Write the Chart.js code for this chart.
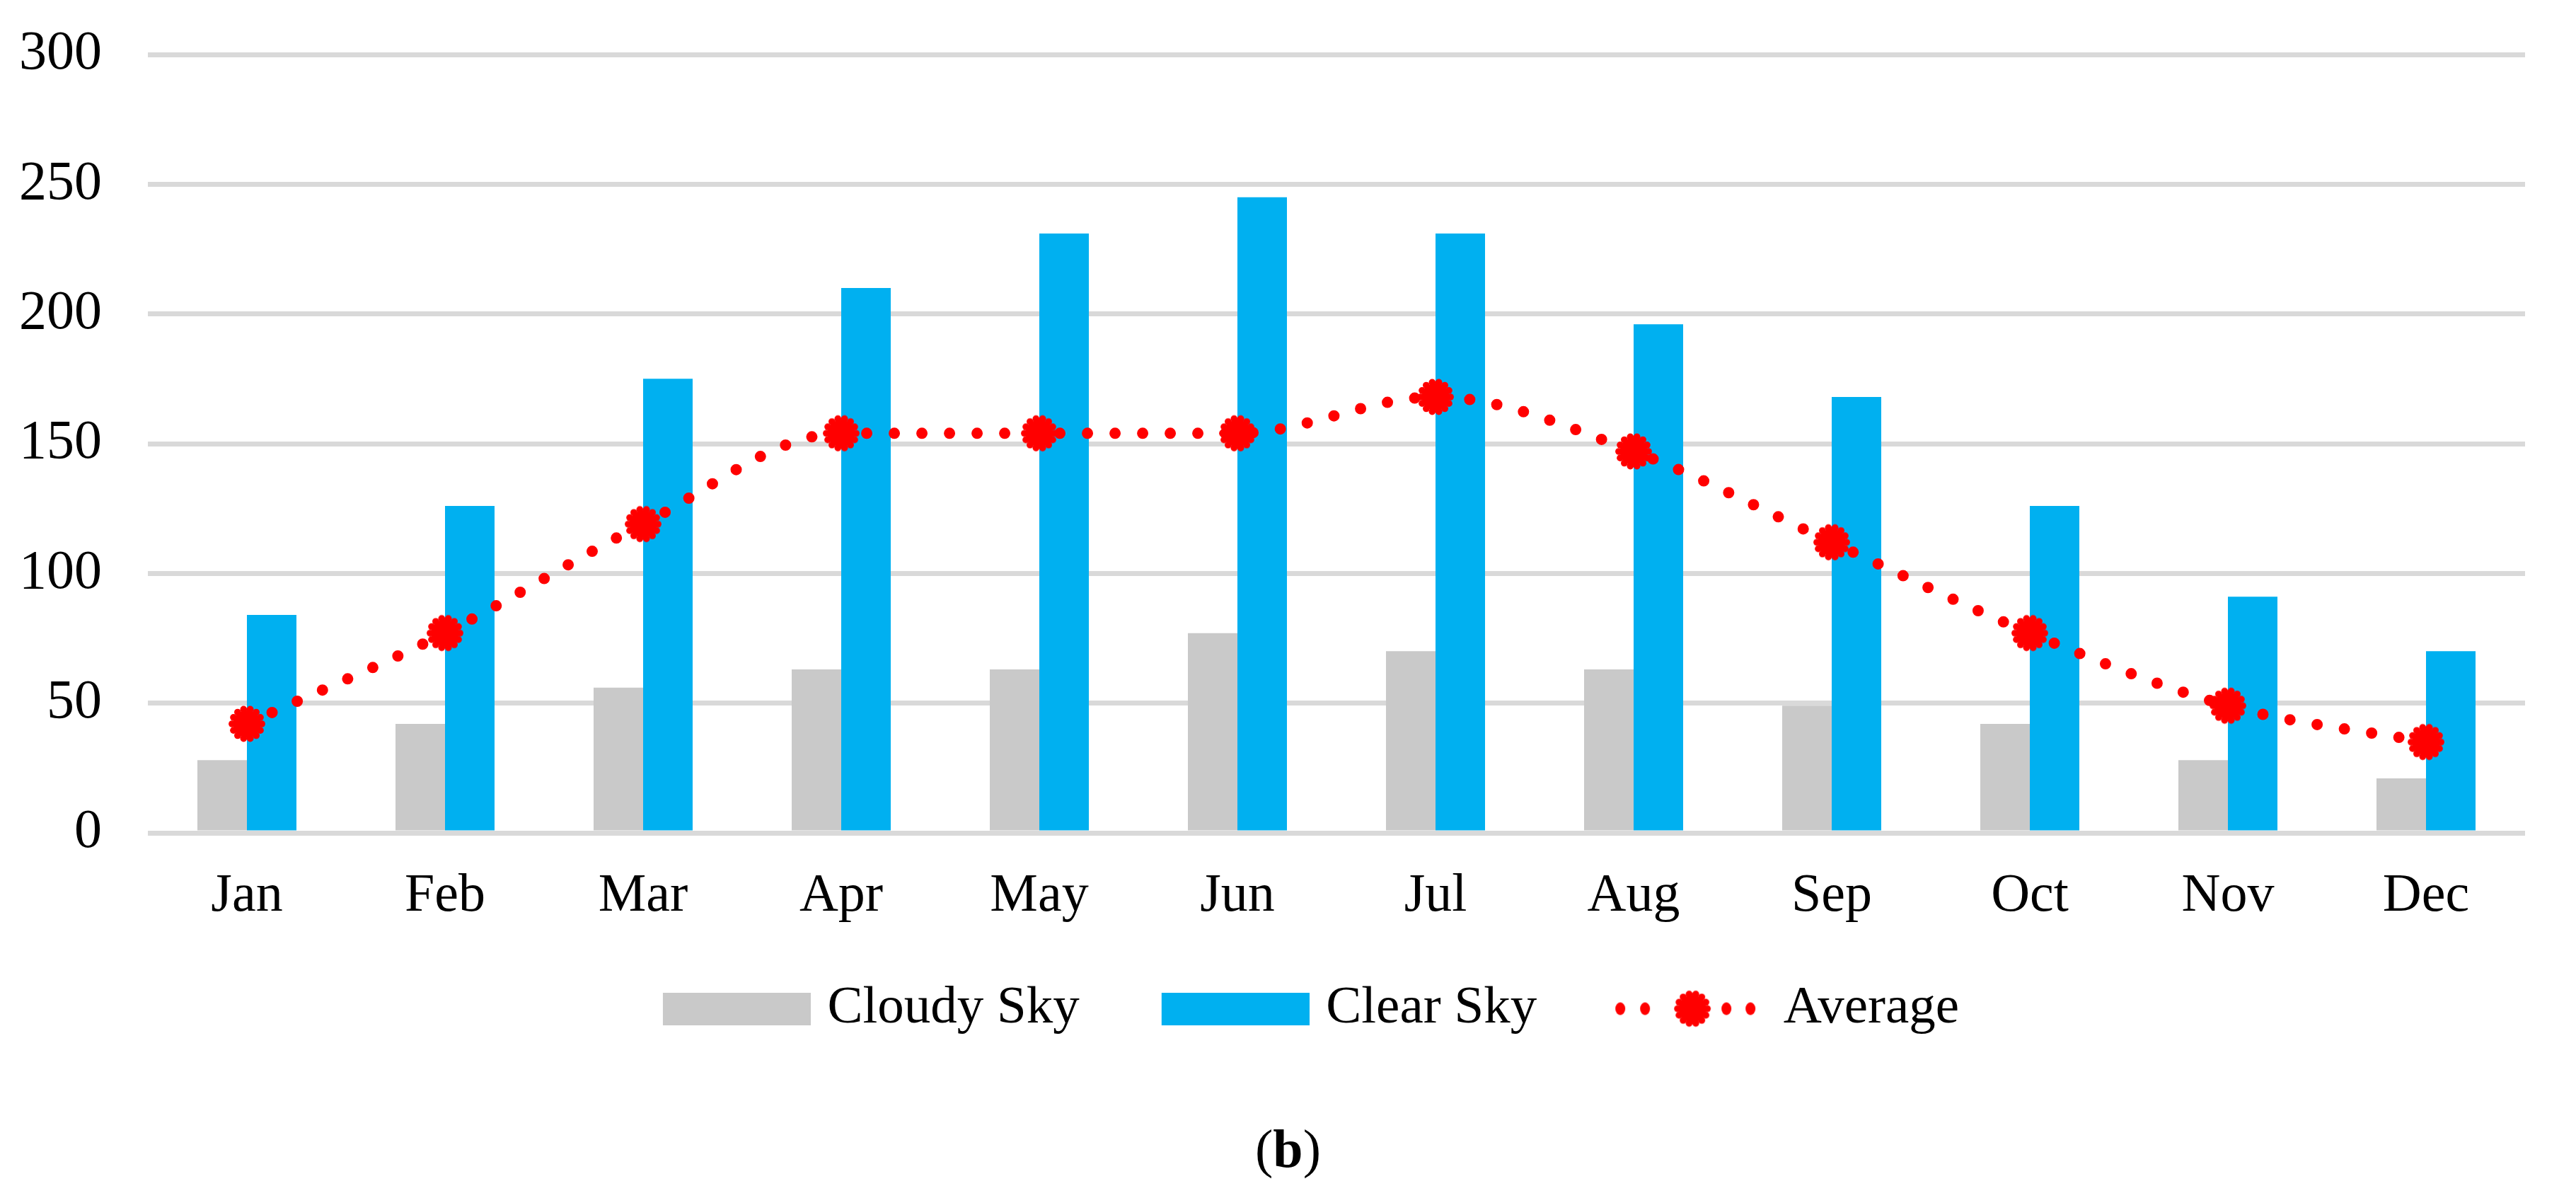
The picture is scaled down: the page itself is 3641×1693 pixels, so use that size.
<!DOCTYPE html>
<html lang="en">
<head>
  <meta charset="UTF-8">
  <title>Cloudy Sky / Clear Sky / Average</title>
  <style>
    html, body {
      margin: 0;
      padding: 0;
      background: #ffffff;
    }
    #wrap {
      position: relative;
      width: 3641px;
      height: 1693px;
    }
    #caption {
      position: absolute;
      left: 0;
      width: 3641px;
      top: 1578px;
      text-align: center;
      font-family: "Liberation Serif", "Times New Roman", serif;
      font-size: 76px;
      line-height: 90px;
      color: #000;
    }
  </style>
</head>
<body>

  <div id="wrap">
    <canvas id="myChart" width="3641" height="1693"></canvas>
    <div id="caption">(<b>b</b>)</div>
  </div>

  <script src="https://cdn.jsdelivr.net/npm/chart.js"></script>
  <script>
    // datos
    var months = ['Jan', 'Feb', 'Mar', 'Apr', 'May', 'Jun', 'Jul', 'Aug', 'Sep', 'Oct', 'Nov', 'Dec'];
    var cloudySky = [28, 42, 56, 63, 63, 77, 70, 63, 49, 42, 28, 21];
    var clearSky = [84, 126, 175, 210, 231, 245, 231, 196, 168, 126, 91, 70];
    var average = [42, 77, 119, 154, 154, 154, 168, 147, 112, 77, 49, 35];
    var yTicks = [0, 50, 100, 150, 200, 250, 300];

    var FONT = '"Liberation Serif", "Times New Roman", serif';
    var RED = '#ff0000';
    // iconos de leyenda: ancho reservado 260, lienzo 288, caja de 209 pegada a la derecha
    var ICON_W = 260;
    var CANVAS_W = 288;
    var BOX_X = CANVAS_W - 209;

    // marcador rojo con borde dentado
    function makeMarker(size) {
      var c = document.createElement('canvas');
      c.width = size; c.height = size;
      var g = c.getContext('2d');
      var m = size / 2;
      g.fillStyle = RED;
      g.beginPath();
      g.arc(m, m, size * 0.36, 0, Math.PI * 2);
      g.fill();
      for (var i = 0; i < 14; i++) {
        var a = i / 14 * Math.PI * 2;
        g.beginPath();
        g.arc(m + Math.cos(a) * size * 0.39, m + Math.sin(a) * size * 0.39, size * 0.09, 0, Math.PI * 2);
        g.fill();
      }
      return c;
    }

    function makeBox(color) {
      var c = document.createElement('canvas');
      c.width = CANVAS_W; c.height = 46;
      var g = c.getContext('2d');
      g.fillStyle = color;
      g.fillRect(BOX_X, 0, 209, 46);
      return c;
    }

    function makeLineSample() {
      var c = document.createElement('canvas');
      c.width = CANVAS_W; c.height = 60;
      var g = c.getContext('2d');
      g.fillStyle = RED;
      [2, 37, 152, 186].forEach(function (x) {
        g.beginPath();
        g.ellipse(BOX_X + x, 30, 7, 9, 0, 0, Math.PI * 2);
        g.fill();
      });
      g.drawImage(makeMarker(54), BOX_X + 104 - 27, 30 - 27);
      return c;
    }

    var marker = makeMarker(54);
    var legendIcons = [makeBox('#c9c9c9'), makeBox('#00b0f0'), makeLineSample()];

    var ctx = document.getElementById('myChart').getContext('2d');
    var myChart = new Chart(ctx, {
      data: {
        labels: months,
        datasets: [{
          type: 'bar',
          label: 'Cloudy Sky',
          data: cloudySky,
          backgroundColor: '#c9c9c9',
          barPercentage: 1.0,
          categoryPercentage: 0.5
        }, {
          type: 'bar',
          label: 'Clear Sky',
          data: clearSky,
          backgroundColor: '#00b0f0',
          barPercentage: 1.0,
          categoryPercentage: 0.5
        }, {
          type: 'line',
          label: 'Average',
          data: average,
          order: -1,
          borderColor: RED,
          backgroundColor: RED,
          borderWidth: 16,
          borderDash: [0, 39],
          borderCapStyle: 'round',
          cubicInterpolationMode: 'monotone',
          fill: false,
          pointStyle: marker,
          pointRadius: 26,
          pointBorderWidth: 0
        }]
      },
      options: {
        responsive: false,
        animation: false,
        layout: {
          padding: { top: 77, right: 0, bottom: 220, left: 0 }
        },
        plugins: {
          tooltip: { enabled: false },
          legend: {
            position: 'bottom',
            labels: {
              usePointStyle: true,
              pointStyleWidth: ICON_W,
              boxHeight: 46,
              padding: 51,
              color: '#000',
              font: { family: FONT, size: 75 },
              sort: function (a, b) { return a.datasetIndex - b.datasetIndex; },
              generateLabels: function (chart) {
                var items = Chart.defaults.plugins.legend.labels.generateLabels(chart);
                items.forEach(function (it) { it.pointStyle = legendIcons[it.datasetIndex]; });
                return items;
              }
            }
          }
        },
        scales: {
          x: {
            grid: { display: false, drawTicks: false },
            border: { display: false },
            ticks: {
              color: '#000',
              padding: 44,
              font: { family: FONT, size: 76 }
            },
            afterFit: function (s) { s.height = 160; }
          },
          y: {
            min: 0,
            max: 300,
            afterBuildTicks: function (s) {
              s.ticks = yTicks.map(function (v) { return { value: v }; });
            },
            grid: {
              color: '#d9d9d9',
              lineWidth: 7,
              drawTicks: true,
              tickLength: 65,
              tickColor: 'rgba(0,0,0,0)'
            },
            border: { display: false },
            ticks: {
              color: '#000',
              padding: 0,
              font: { family: FONT, size: 78 }
            },
            afterFit: function (s) { s.width = 209; }
          },
          // eje vacio a la derecha, solo para dejar margen
          yRight: {
            position: 'right',
            grid: { display: false, drawTicks: false },
            border: { display: false },
            ticks: { display: false },
            afterFit: function (s) { s.width = 72; }
          }
        }
      }
    });
  </script>

</body>
</html>
